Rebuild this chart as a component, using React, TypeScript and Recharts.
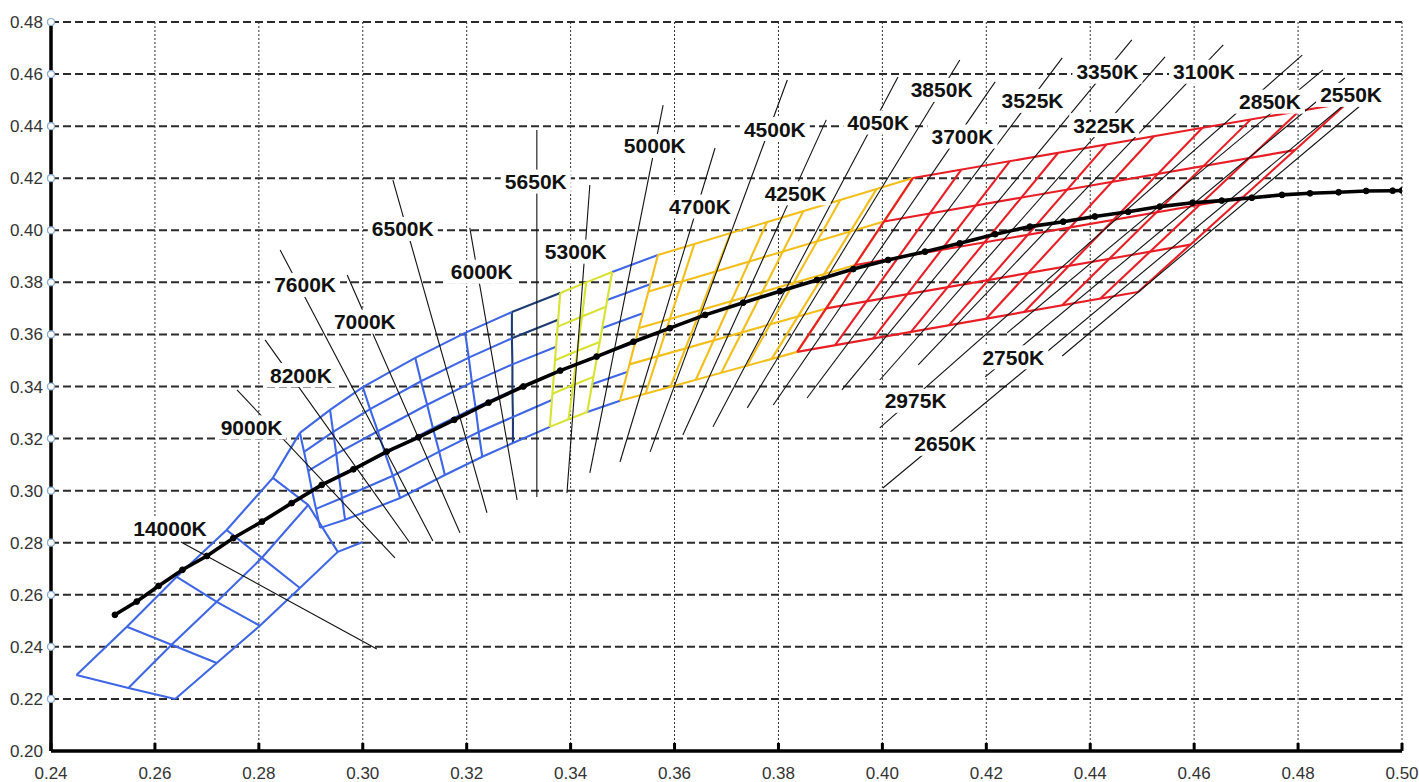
import React from "react";
import { ComposedChart, Line, Scatter, XAxis, YAxis, CartesianGrid } from "recharts";

type Pt = [number, number];

const xTicks = [0.24, 0.26, 0.28, 0.3, 0.32, 0.34, 0.36, 0.38, 0.4, 0.42, 0.44, 0.46, 0.48, 0.5];
const yTicks = [0.2, 0.22, 0.24, 0.26, 0.28, 0.3, 0.32, 0.34, 0.36, 0.38, 0.4, 0.42, 0.44, 0.46, 0.48];

// Planckian locus
const locus: Pt[] = [
  [0.2523, 0.2523], [0.2565, 0.2574], [0.2607, 0.2634], [0.2653, 0.2696], [0.27, 0.2749],
  [0.2751, 0.2818], [0.2806, 0.2881], [0.2863, 0.2952], [0.2921, 0.3022], [0.2982, 0.3082],
  [0.3046, 0.315], [0.3107, 0.3205], [0.3176, 0.3272], [0.3242, 0.3338], [0.3309, 0.34],
  [0.338, 0.3461], [0.345, 0.3515], [0.3521, 0.3572], [0.3591, 0.3624], [0.3659, 0.3675],
  [0.3732, 0.3722], [0.3803, 0.3766], [0.3874, 0.3809], [0.3944, 0.3851], [0.4011, 0.3886],
  [0.4082, 0.3918], [0.4149, 0.395], [0.4217, 0.3985], [0.4284, 0.4014], [0.4348, 0.4033],
  [0.4409, 0.4053], [0.4473, 0.4071], [0.4534, 0.4091], [0.4597, 0.4106], [0.4653, 0.4114],
  [0.4711, 0.4125], [0.4769, 0.4136], [0.4823, 0.4142], [0.4878, 0.4146], [0.4931, 0.4151],
  [0.4982, 0.4152], [0.5, 0.4153],
];

// isotemperature lines, same order as the labels
const isoLines: Pt[][] = [
  [[0.265, 0.2803], [0.3027, 0.2392]],
  [[0.2758, 0.3387], [0.3062, 0.2742]],
  [[0.2812, 0.3579], [0.3091, 0.2799]],
  [[0.2841, 0.3924], [0.3135, 0.2807]],
  [[0.297, 0.3828], [0.3187, 0.2838]],
  [[0.3058, 0.4193], [0.3239, 0.2915]],
  [[0.3206, 0.4009], [0.3297, 0.2964]],
  [[0.3335, 0.4385], [0.3335, 0.2976]],
  [[0.3437, 0.4174], [0.3393, 0.2991]],
  [[0.3578, 0.4481], [0.3437, 0.3068]],
  [[0.3678, 0.4316], [0.3495, 0.311]],
  [[0.3817, 0.4577], [0.3553, 0.3149]],
  [[0.3892, 0.4424], [0.3616, 0.3214]],
  [[0.403, 0.4589], [0.3674, 0.3245]],
  [[0.4149, 0.4654], [0.374, 0.3318]],
  [[0.4217, 0.457], [0.379, 0.3329]],
  [[0.4346, 0.4662], [0.3855, 0.3356]],
  [[0.448, 0.4731], [0.3922, 0.3387]],
  [[0.4544, 0.4666], [0.3995, 0.3425]],
  [[0.4656, 0.4712], [0.4069, 0.3483]],
  [[0.4808, 0.4673], [0.3995, 0.3241]],
  [[0.4848, 0.4616], [0.424, 0.3606]],
  [[0.489, 0.4585], [0.4198, 0.3437]],
  [[0.4923, 0.4539], [0.4001, 0.301]],
  [[0.4967, 0.4558], [0.4346, 0.3517]],
];

const tempLabels = [
  { t: "14000K", x: 0.2629, y: 0.2853 },
  { t: "9000K", x: 0.2786, y: 0.3243 },
  { t: "8200K", x: 0.2881, y: 0.3444 },
  { t: "7600K", x: 0.2889, y: 0.379 },
  { t: "7000K", x: 0.3004, y: 0.3649 },
  { t: "6500K", x: 0.3077, y: 0.4005 },
  { t: "6000K", x: 0.3229, y: 0.3841 },
  { t: "5650K", x: 0.3333, y: 0.4187 },
  { t: "5300K", x: 0.341, y: 0.3918 },
  { t: "5000K", x: 0.3562, y: 0.4324 },
  { t: "4700K", x: 0.3649, y: 0.4091 },
  { t: "4500K", x: 0.3793, y: 0.4389 },
  { t: "4250K", x: 0.3833, y: 0.4142 },
  { t: "4050K", x: 0.3992, y: 0.4414 },
  { t: "3850K", x: 0.4114, y: 0.4539 },
  { t: "3700K", x: 0.4154, y: 0.436 },
  { t: "3525K", x: 0.4289, y: 0.4497 },
  { t: "3350K", x: 0.4433, y: 0.4609 },
  { t: "3225K", x: 0.4427, y: 0.4404 },
  { t: "3100K", x: 0.4619, y: 0.4609 },
  { t: "2975K", x: 0.4064, y: 0.3345 },
  { t: "2850K", x: 0.4746, y: 0.4494 },
  { t: "2750K", x: 0.4252, y: 0.3512 },
  { t: "2650K", x: 0.4121, y: 0.318 },
  { t: "2550K", x: 0.4902, y: 0.452 },
];

// lower blue block (14000K - 9000K)
const blueLowCols: Pt[][] = [
  [[0.2449, 0.2292], [0.2546, 0.2477], [0.2642, 0.2669], [0.2738, 0.2849], [0.2827, 0.3049], [0.2879, 0.3222]],
  [[0.2549, 0.2242], [0.2632, 0.2408], [0.2719, 0.2573], [0.2806, 0.2742], [0.2895, 0.2945]],
  [[0.2639, 0.22], [0.2719, 0.2338], [0.2802, 0.2481], [0.2879, 0.2626], [0.2952, 0.2765], [0.3, 0.2803]],
];
const blueLowRows: Pt[][] = [
  [[0.2449, 0.2292], [0.2549, 0.2242], [0.2639, 0.22]],
  [[0.2546, 0.2477], [0.2632, 0.2408], [0.2719, 0.2338]],
  [[0.2642, 0.2669], [0.2719, 0.2573], [0.2802, 0.2481]],
  [[0.2738, 0.2849], [0.2806, 0.2742], [0.2879, 0.2626]],
  [[0.2827, 0.3049], [0.2895, 0.2945], [0.2952, 0.2765]],
];

// blue band (8200K - 5300K), columns of nodes, top to bottom
const blueBandCols: Pt[][] = [
  [[0.2879, 0.3222], [0.2887, 0.3149], [0.2895, 0.3076], [0.2902, 0.3003], [0.291, 0.293], [0.2918, 0.2857]],
  [[0.2937, 0.331], [0.2943, 0.3226], [0.2949, 0.3141], [0.2954, 0.3057], [0.296, 0.2972], [0.2966, 0.2888]],
  [[0.3, 0.3398], [0.3014, 0.3313], [0.3029, 0.3228], [0.3043, 0.3142], [0.3058, 0.3057], [0.3072, 0.2972]],
  [[0.3101, 0.351], [0.3112, 0.342], [0.3124, 0.333], [0.3135, 0.324], [0.3147, 0.315], [0.3158, 0.306]],
  [[0.3197, 0.3606], [0.3204, 0.3511], [0.321, 0.3416], [0.3217, 0.332], [0.3223, 0.3225], [0.323, 0.313]],
  [[0.3287, 0.3686], [0.3287, 0.3585], [0.3288, 0.3485], [0.3288, 0.3384], [0.3289, 0.3283], [0.3289, 0.3183]],
  [[0.338, 0.3759], [0.3376, 0.3656], [0.3372, 0.3553], [0.3368, 0.3451], [0.3364, 0.3348], [0.336, 0.3245]],
  [[0.348, 0.384], [0.347, 0.3732], [0.3461, 0.3625], [0.3451, 0.3517], [0.3442, 0.341], [0.3432, 0.3302]],
  [[0.3568, 0.3905], [0.3553, 0.3793], [0.3539, 0.3681], [0.3524, 0.3569], [0.351, 0.3457], [0.3495, 0.3345]],
];

// yellow-green block (5300K)
const ygCols: Pt[][] = [
  [[0.338, 0.3759], [0.3375, 0.363], [0.337, 0.3501], [0.3365, 0.3372], [0.336, 0.3245]],
  [[0.343, 0.38], [0.3422, 0.3669], [0.3413, 0.3537], [0.3405, 0.3406], [0.3396, 0.3274]],
  [[0.348, 0.384], [0.3468, 0.3706], [0.3456, 0.3571], [0.3444, 0.3437], [0.3432, 0.3302]],
];

// yellow block (5000K - 4050K)
const yellowAlong: Pt[][] = [
  [[0.3568, 0.3905], [0.4059, 0.4201]],
  [[0.355, 0.3765], [0.4003, 0.4034]],
  [[0.3532, 0.3625], [0.3948, 0.3867]],
  [[0.3513, 0.3485], [0.3892, 0.37]],
  [[0.3495, 0.3345], [0.3836, 0.3533]],
];
const yellowCross: Pt[][] = [
  [[0.3568, 0.3905], [0.3495, 0.3345]],
  [[0.3638, 0.3947], [0.3544, 0.3372]],
  [[0.3708, 0.399], [0.3592, 0.3399]],
  [[0.3778, 0.4032], [0.3641, 0.3426]],
  [[0.3848, 0.4074], [0.369, 0.3453]],
  [[0.3919, 0.4116], [0.3739, 0.3479]],
  [[0.3989, 0.4159], [0.3787, 0.3506]],
  [[0.4059, 0.4201], [0.3836, 0.3533]],
];

// red block (3850K - 2550K)
const redAlong: Pt[][] = [
  [[0.4059, 0.4201], [0.4895, 0.449]],
  [[0.4003, 0.4034], [0.4794, 0.4308]],
  [[0.3948, 0.3867], [0.4694, 0.4127]],
  [[0.3892, 0.37], [0.4593, 0.3945]],
  [[0.3836, 0.3533], [0.4492, 0.3763]],
];
const redCross: Pt[][] = [
  [[0.4059, 0.4201], [0.3836, 0.3533]],
  [[0.4152, 0.4233], [0.3909, 0.3559]],
  [[0.4245, 0.4265], [0.3982, 0.3584]],
  [[0.4338, 0.4297], [0.4055, 0.361]],
  [[0.4431, 0.4329], [0.4128, 0.3635]],
  [[0.4523, 0.4362], [0.42, 0.3661]],
  [[0.4616, 0.4394], [0.4273, 0.3686]],
  [[0.4709, 0.4426], [0.4346, 0.3712]],
  [[0.4802, 0.4458], [0.4419, 0.3737]],
  [[0.4895, 0.449], [0.4492, 0.3763]],
];

const BLUE = "#3f66e4";
const NAVY = "#1f3b73";
const LIME = "#d7e232";
const GOLD = "#f2bf1c";
const RED = "#e81e26";
const FONT = "'Liberation Sans', Arial, sans-serif";

const seg = (pts: Pt[], key: string, stroke: string, w = 2.1) => (
  <Line
    key={key}
    data={pts.map(([x, y]) => ({ x, y }))}
    dataKey="y"
    type="linear"
    stroke={stroke}
    strokeWidth={w}
    dot={false}
    activeDot={false}
    isAnimationActive={false}
    legendType="none"
  />
);

const XTick = ({ x, y, payload }: any) => (
  <g>
    <rect x={x - 1.5} y={y - 8} width={3} height={8} fill="#000" />
    <text x={x} y={y + 28} textAnchor="middle" fontSize={17} fontFamily={FONT} fill="#333">
      {Number(payload.value).toFixed(2)}
    </text>
  </g>
);

const YTick = ({ x, y, payload }: any) => (
  <g>
    {payload.value > 0.2 && <circle cx={x} cy={y} r={3.5} fill="#fff" stroke="#86acd6" strokeWidth={1.2} />}
    <text x={x - 8} y={y + 6} textAnchor="end" fontSize={17} fontFamily={FONT} fill="#333">
      {Number(payload.value).toFixed(2)}
    </text>
  </g>
);

const RTick = ({ x, y }: any) => <circle cx={x} cy={y} r={3.5} fill="#fff" stroke="#86acd6" strokeWidth={1.2} />;

const LabelShape = (p: any) => {
  const t: string = p.payload.t;
  const w = (t.length - 1) * 11.7 + 15.2;
  return (
    <g>
      <rect x={p.cx - w / 2 - 4} y={p.cy - 12} width={w + 8} height={24} fill="#fff" />
      <text x={p.cx} y={p.cy + 7.5} textAnchor="middle" fontSize={21} fontWeight="bold" fontFamily={FONT} fill="#111">
        {t}
      </text>
    </g>
  );
};

export default function App() {
  const bandRows = [0, 1, 2, 3, 4, 5];
  return (
    <div style={{ width: 1419, height: 782, background: "#fff" }}>
      <style>{"body{margin:0}"}</style>
      <ComposedChart width={1419} height={782} margin={{ top: 22, right: 0, bottom: 0, left: 0 }}>
        <CartesianGrid vertical={false} stroke="#2b2b2b" strokeWidth={2} strokeDasharray="8 4" />
        <CartesianGrid horizontal={false} stroke="#333" strokeWidth={1} strokeDasharray="2 2" />
        <XAxis
          dataKey="x"
          type="number"
          domain={[0.24, 0.5]}
          ticks={xTicks}
          interval={0}
          allowDataOverflow
          height={31}
          axisLine={{ stroke: "#000", strokeWidth: 3.5 }}
          tickLine={false}
          tickSize={0}
          tickMargin={0}
          tick={<XTick />}
        />
        <YAxis
          type="number"
          domain={[0.2, 0.48]}
          ticks={yTicks}
          interval={0}
          allowDataOverflow
          width={51}
          axisLine={{ stroke: "#000", strokeWidth: 3.5 }}
          tickLine={false}
          tickSize={0}
          tickMargin={0}
          tick={<YTick />}
        />
        <YAxis
          yAxisId="r"
          orientation="right"
          type="number"
          domain={[0.2, 0.48]}
          ticks={yTicks}
          interval={0}
          width={17}
          axisLine={false}
          tickLine={false}
          tickSize={0}
          tickMargin={0}
          tick={<RTick />}
        />

        {blueLowCols.map((c, i) => seg(c, `blc${i}`, BLUE))}
        {blueLowRows.map((r, i) => seg(r, `blr${i}`, BLUE))}
        {blueBandCols.slice(0, 5).map((c, i) => seg(c, `bbc${i}`, BLUE))}
        {seg(blueBandCols[5], "bbc5", NAVY)}
        {bandRows.map((k) => seg(blueBandCols.slice(0, 6).map((c) => c[k]), `bbr${k}`, BLUE))}
        {bandRows.map((k) => seg([blueBandCols[5][k], blueBandCols[6][k]], `bbn${k}`, k < 2 ? NAVY : BLUE))}
        {bandRows.map((k) => seg([blueBandCols[7][k], blueBandCols[8][k]], `bbe${k}`, BLUE))}

        {ygCols.map((c, i) => seg(c, `ygc${i}`, LIME))}
        {[0, 1, 2, 3, 4].map((k) => seg(ygCols.map((c) => c[k]), `ygr${k}`, LIME))}

        {yellowAlong.map((s, i) => seg(s, `ya${i}`, GOLD))}
        {yellowCross.map((s, i) => seg(s, `yc${i}`, GOLD))}
        {redAlong.map((s, i) => seg(s, `ra${i}`, RED))}
        {redCross.map((s, i) => seg(s, `rc${i}`, RED))}

        {isoLines.map((s, i) => seg(s, `iso${i}`, "#111", 1.1))}

        <Line
          data={locus.map(([x, y]) => ({ x, y }))}
          dataKey="y"
          type="linear"
          stroke="#000"
          strokeWidth={3.6}
          dot={{ r: 2.9, fill: "#000", stroke: "#000", strokeWidth: 1 }}
          activeDot={false}
          isAnimationActive={false}
          legendType="none"
        />

        <Scatter data={tempLabels} dataKey="y" isAnimationActive={false} shape={LabelShape} legendType="none" />
      </ComposedChart>
    </div>
  );
}
